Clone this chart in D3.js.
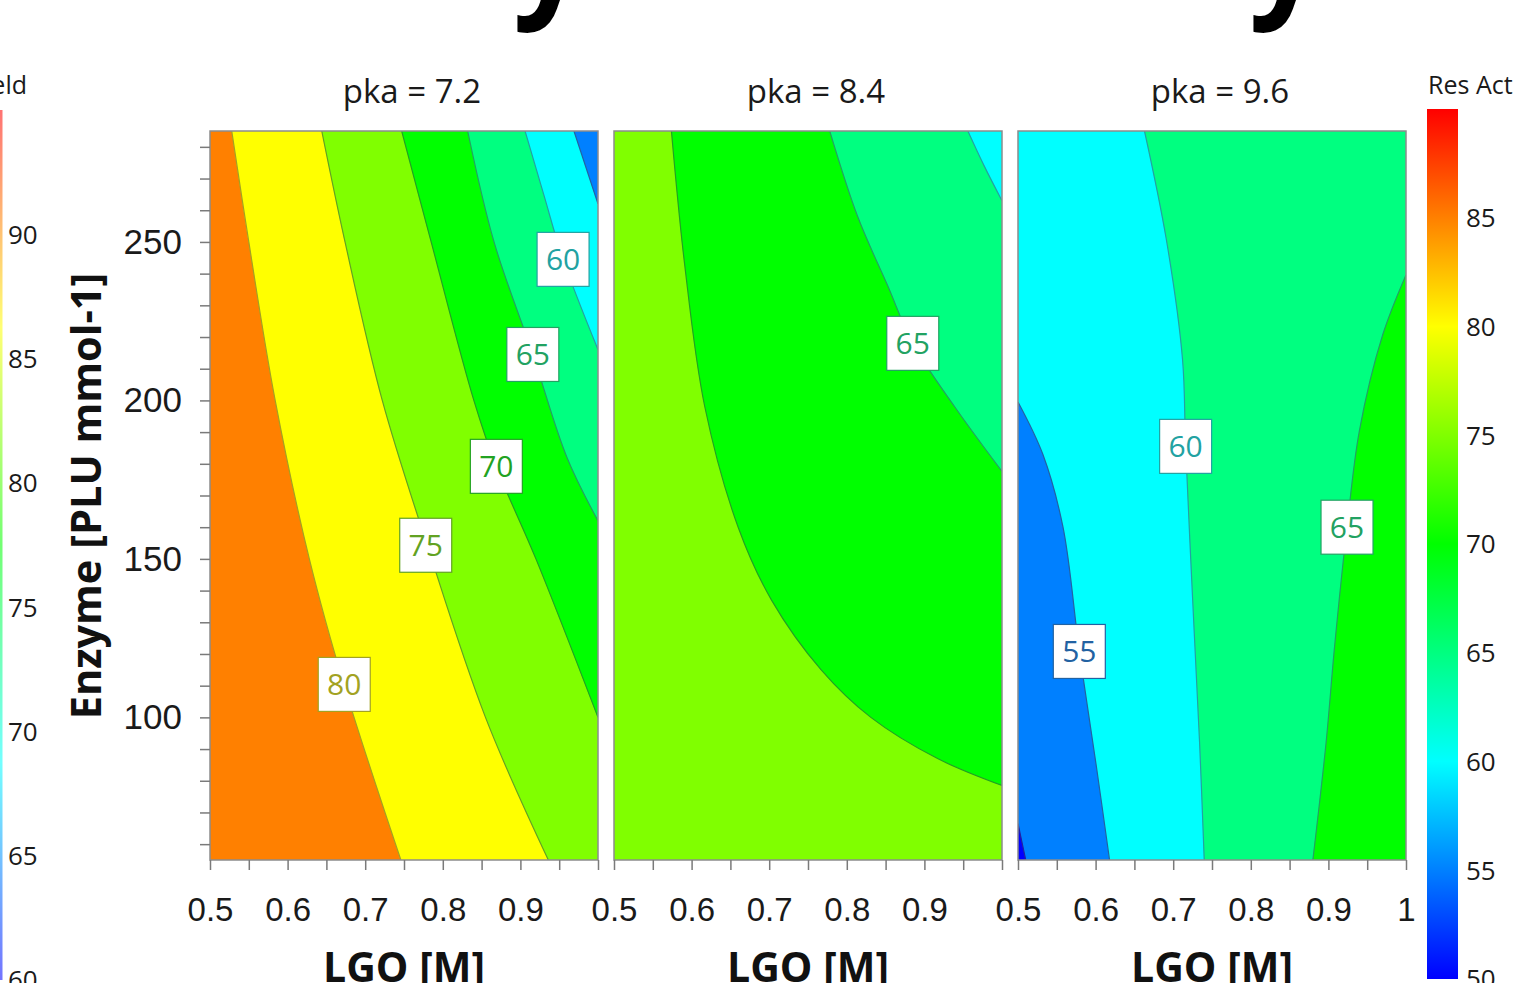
<!DOCTYPE html>
<html>
<head>
<meta charset="utf-8">
<script src="https://cdn.jsdelivr.net/npm/d3@7"></script>
<style>
body { margin: 0; background: #fff; }
svg { display: block; font-family: "Open Sans", "Noto Sans", sans-serif; }
</style>
</head>
<body>
<svg width="1519" height="983"></svg>
<script>
// Residual activity response surface, one filled contour panel per pKa

var pkaValues = [7.2, 8.4, 9.6];
var lgoDomain = [0.5, 1.0];
var enzymeDomain = [55, 285];
var lgoTicks = [0.5, 0.55, 0.6, 0.65, 0.7, 0.75, 0.8, 0.85, 0.9, 0.95, 1.0];
var enzymeTicks = [60, 70, 80, 90, 100, 110, 120, 130, 140, 150, 160, 170, 180, 190, 200, 210, 220, 230, 240, 250, 260, 270, 280];
var resActStops = [50, 55, 60, 65, 70, 75, 80, 85, 90];
var resActColors = ["#0000ff", "#0080ff", "#00ffff", "#00ff80", "#00ff00", "#80ff00", "#ffff00", "#ff8000", "#ff0000"];
var resActTicks = [50, 55, 60, 65, 70, 75, 80, 85];
var yieldStops = [60, 64.4, 68.75, 73.1, 77.5, 81.9, 86.25, 90.6, 95];
var yieldTicks = [60, 65, 70, 75, 80, 85, 90];

// contour lines, points are [LGO, Enzyme]
var contours72 = [
	{level: 55, pts: [[0.969, 285], [1.0, 262]]},
	{level: 60, pts: [[0.906, 285], [0.930, 265], [0.955, 244.5], [1.0, 216]]},
	{level: 65, pts: [[0.832, 285], [0.866, 250], [0.916, 214.5], [0.960, 182], [1.0, 162]]},
	{level: 70, pts: [[0.747, 285], [0.785, 250], [0.840, 200], [0.869, 179], [0.920, 150], [1.0, 100]]},
	{level: 75, pts: [[0.644, 285], [0.674, 250], [0.722, 200], [0.779, 155], [0.855, 100], [0.936, 55]]},
	{level: 80, pts: [[0.528, 285], [0.550, 250], [0.584, 200], [0.628, 150], [0.673, 110], [0.746, 55]]}
];
var contours84 = [
	{level: 60, pts: [[0.956, 285], [0.977, 274], [1.0, 263]]},
	{level: 65, pts: [[0.778, 285], [0.814, 258], [0.853, 236], [0.885, 218], [0.939, 198], [1.0, 177.6]]},
	{level: 70, pts: [[0.574, 285], [0.591, 243], [0.617, 198], [0.660, 160], [0.703, 137], [0.767, 115], [0.831, 100], [0.917, 87], [1.0, 78.5]]}
];
var contours96 = [
	{level: 50, pts: [[0.5, 66.5], [0.51, 55]]},
	{level: 55, pts: [[0.5, 199.5], [0.532, 183], [0.558, 160], [0.579, 121], [0.601, 84.5], [0.618, 55]]},
	{level: 60, pts: [[0.663, 285], [0.691, 251], [0.712, 213], [0.716, 185.5], [0.725, 137.5], [0.734, 92], [0.740, 55]]},
	{level: 65, pts: [[1.0, 239.6], [0.97, 220.7], [0.94, 190.5], [0.924, 160], [0.908, 122.4], [0.897, 92], [0.88, 55]]}
];
// inline labels: [level, LGO, Enzyme]
var labels72 = [[60, 0.955, 244.5], [65, 0.916, 214.5], [70, 0.869, 179.2], [75, 0.778, 154.3], [80, 0.673, 110.4]];
var labels84 = [[65, 0.885, 218]];
var labels96 = [[60, 0.716, 185.5], [65, 0.924, 160], [55, 0.579, 120.8]];
// corner where the surface is highest
var peaks = [[0.5, 55], [0.5, 55], [1.0, 55]];

var panelData = [
	{pka: pkaValues[0], contours: contours72, labels: labels72, peak: peaks[0], x0: 210, lastTick: false},
	{pka: pkaValues[1], contours: contours84, labels: labels84, peak: peaks[1], x0: 614, lastTick: false},
	{pka: pkaValues[2], contours: contours96, labels: labels96, peak: peaks[2], x0: 1018, lastTick: true}
];

var svg = d3.select("svg");
var panelW = 388, plotTop = 131, plotBottom = 860;
var color = d3.scaleLinear().domain(resActStops).range(resActColors);
var yScale = d3.scaleLinear().domain(enzymeDomain).range([plotBottom, plotTop]);

function ink(level) {
	return d3.interpolateRgb(color(level), "#444")(0.5);
}

// position on the frame, clockwise from top-left corner (0..4)
function perim(p) {
	var fx = (p[0] - lgoDomain[0]) / (lgoDomain[1] - lgoDomain[0]);
	var fy = (enzymeDomain[1] - p[1]) / (enzymeDomain[1] - enzymeDomain[0]);
	var d = [fy, 1 - fx, 1 - fy, fx];
	var e = d.indexOf(d3.min(d));
	if (e === 0) return fx;
	if (e === 1) return 1 + fy;
	if (e === 2) return 3 - fx;
	return 4 - fy;
}

function walk(from, to, dir) {
	var span = dir > 0 ? ((to - from) % 4 + 4) % 4 : ((from - to) % 4 + 4) % 4;
	var out = [];
	for (var c = 0; c < 4; c++) {
		var off = dir > 0 ? ((c - from) % 4 + 4) % 4 : ((from - c) % 4 + 4) % 4;
		if (off > 0 && off < span) out.push({c: c, off: off});
	}
	return out.sort((a, b) => a.off - b.off).map(o => o.c);
}

var cornerPts = [[lgoDomain[0], enzymeDomain[1]], [lgoDomain[1], enzymeDomain[1]], [lgoDomain[1], enzymeDomain[0]], [lgoDomain[0], enzymeDomain[0]]];

// title: only the descenders of the two y's reach into the picture
var title = svg.append("text")
	.text("Residual Enzyme Activity")
	.attr("font-weight", "bold")
	.attr("font-size", 100)
	.attr("x", 0)
	.attr("y", 0);
var tn = title.node();
var pa = tn.getStartPositionOfChar(12).x, pb = tn.getStartPositionOfChar(23).x;
var tSize = 100 * (1249 - 513) / (pb - pa);
title.attr("font-size", tSize);
var tx = 513 - tn.getStartPositionOfChar(12).x;
title.attr("x", 0).attr("y", 0)
	.attr("transform", "translate(" + tx + ",-1) scale(1," + (34 / (0.24 * tSize)) + ")");

var defs = svg.append("defs");

panelData.forEach((pd, i) => {
	var x = d3.scaleLinear().domain(lgoDomain).range([pd.x0, pd.x0 + panelW]);
	var line = d3.line().x(d => x(d[0])).y(d => yScale(d[1])).curve(d3.curveCatmullRom.alpha(0.5));

	defs.append("clipPath").attr("id", "clip" + i)
		.append("rect").attr("x", pd.x0).attr("y", plotTop).attr("width", panelW).attr("height", plotBottom - plotTop);

	var g = svg.append("g").attr("clip-path", "url(#clip" + i + ")");

	g.append("rect")
		.attr("x", pd.x0).attr("y", plotTop).attr("width", panelW).attr("height", plotBottom - plotTop)
		.attr("fill", color(pd.contours[0].level));

	var peakCorner = Math.round(perim(pd.peak)) % 4;

	g.selectAll("path.band")
		.data(pd.contours)
		.enter().append("path")
		.attr("class", "band")
		.attr("fill", c => color(c.level + 5))
		.attr("d", c => {
			var ts = perim(c.pts[0]), te = perim(c.pts[c.pts.length - 1]);
			var cw = walk(te, ts, 1), ccw = walk(te, ts, -1);
			var path = cw.indexOf(peakCorner) >= 0 ? cw : ccw;
			return line(c.pts) + path.map(k => "L" + x(cornerPts[k][0]) + "," + yScale(cornerPts[k][1])).join("") + "Z";
		});

	g.selectAll("path.iso")
		.data(pd.contours)
		.enter().append("path")
		.attr("class", "iso")
		.attr("fill", "none")
		.attr("stroke", c => ink(c.level))
		.attr("stroke-width", 1.2)
		.attr("d", c => line(c.pts));

	svg.append("rect")
		.attr("x", pd.x0).attr("y", plotTop).attr("width", panelW).attr("height", plotBottom - plotTop)
		.attr("fill", "none").attr("stroke", "#8c8c8c").attr("stroke-width", 1.5);

	var lab = svg.append("g").selectAll("g")
		.data(pd.labels)
		.enter().append("g")
		.attr("transform", l => "translate(" + x(l[1]) + "," + yScale(l[2]) + ")");
	lab.append("rect")
		.attr("x", -26).attr("y", -27).attr("width", 52).attr("height", 54)
		.attr("fill", "#fff").attr("stroke", l => ink(l[0])).attr("stroke-width", 1.2);
	lab.append("text")
		.text(l => l[0])
		.attr("text-anchor", "middle")
		.attr("dy", "0.36em")
		.attr("font-size", 30)
		.attr("fill", l => ink(l[0]));

	// x axis
	var xa = svg.append("g")
		.attr("transform", "translate(0," + plotBottom + ")")
		.call(d3.axisBottom(x)
			.tickValues(lgoTicks)
			.tickSize(10)
			.tickPadding(28)
			.tickFormat(d => {
				if (Math.round(d * 100) % 10) return "";
				if (d === 1 && !pd.lastTick) return "";
				return String(+d.toFixed(1));
			}));
	xa.select(".domain").remove();
	xa.selectAll("line").attr("stroke", "#7a7a7a").attr("stroke-width", 1.5);
	xa.selectAll("text").attr("font-size", 33).attr("fill", "#1a1a1a").attr("font-family", null);

	svg.append("text")
		.attr("x", pd.x0 + panelW / 2 + 8).attr("y", 103)
		.attr("text-anchor", "middle")
		.attr("font-size", 33)
		.attr("fill", "#1a1a1a")
		.text("pka = " + pd.pka);

	svg.append("text")
		.attr("x", pd.x0 + panelW / 2).attr("y", 982)
		.attr("text-anchor", "middle")
		.attr("font-size", 41)
		.attr("font-weight", "bold")
		.attr("fill", "#111")
		.text("LGO [M]");
});

// y axis on the first panel
var yAxis = svg.append("g")
	.attr("transform", "translate(210,0)")
	.call(d3.axisLeft(yScale)
		.tickValues(enzymeTicks)
		.tickSize(10)
		.tickPadding(18)
		.tickFormat(d => d % 50 === 0 ? d : ""));
yAxis.select(".domain").remove();
yAxis.selectAll("line").attr("stroke", "#7a7a7a").attr("stroke-width", 1.5);
yAxis.selectAll("text").attr("font-size", 35).attr("fill", "#1a1a1a").attr("font-family", null);

svg.append("text")
	.attr("transform", "translate(101,496) rotate(-90)")
	.attr("text-anchor", "middle")
	.attr("font-size", 41.5)
	.attr("font-weight", "bold")
	.attr("fill", "#111")
	.text("Enzyme [PLU mmol-1]");

// colour bar on the right
var cbY = d3.scaleLinear().domain([50, 90]).range([979, 109]);
var grad = defs.append("linearGradient").attr("id", "resact")
	.attr("x1", 0).attr("y1", 1).attr("x2", 0).attr("y2", 0);
grad.selectAll("stop").data(resActStops).enter().append("stop")
	.attr("offset", v => (v - 50) / 40)
	.attr("stop-color", v => color(v));
svg.append("rect")
	.attr("x", 1427).attr("y", cbY(90)).attr("width", 31).attr("height", cbY(50) - cbY(90))
	.attr("fill", "url(#resact)");
svg.selectAll("text.cbr").data(resActTicks).enter().append("text")
	.attr("class", "cbr")
	.attr("x", 1466).attr("y", v => cbY(v))
	.attr("dy", "0.36em")
	.attr("font-size", 26)
	.attr("fill", "#1a1a1a")
	.text(v => v);
svg.append("text")
	.attr("x", 1428).attr("y", 94)
	.attr("font-size", 25)
	.attr("fill", "#1a1a1a")
	.text("Res Act");

// neighbouring yield colour bar, mostly outside the picture
var ycY = d3.scaleLinear().domain([60, 95]).range([980, 110]);
var ygrad = defs.append("linearGradient").attr("id", "yield")
	.attr("x1", 0).attr("y1", 1).attr("x2", 0).attr("y2", 0);
ygrad.selectAll("stop").data(yieldStops).enter().append("stop")
	.attr("offset", v => (v - 60) / 35)
	.attr("stop-color", (v, k) => resActColors[k]);
svg.append("rect")
	.attr("x", -30).attr("y", ycY(95)).attr("width", 32.5).attr("height", ycY(60) - ycY(95))
	.attr("fill", "url(#yield)").attr("opacity", 0.55);
svg.selectAll("text.cbl").data(yieldTicks).enter().append("text")
	.attr("class", "cbl")
	.attr("x", 8).attr("y", v => ycY(v))
	.attr("dy", "0.36em")
	.attr("font-size", 26)
	.attr("fill", "#1a1a1a")
	.text(v => v);
svg.append("text")
	.attr("x", 27).attr("y", 94)
	.attr("text-anchor", "end")
	.attr("font-size", 25)
	.attr("fill", "#1a1a1a")
	.text("Yield");
</script>
</body>
</html>
